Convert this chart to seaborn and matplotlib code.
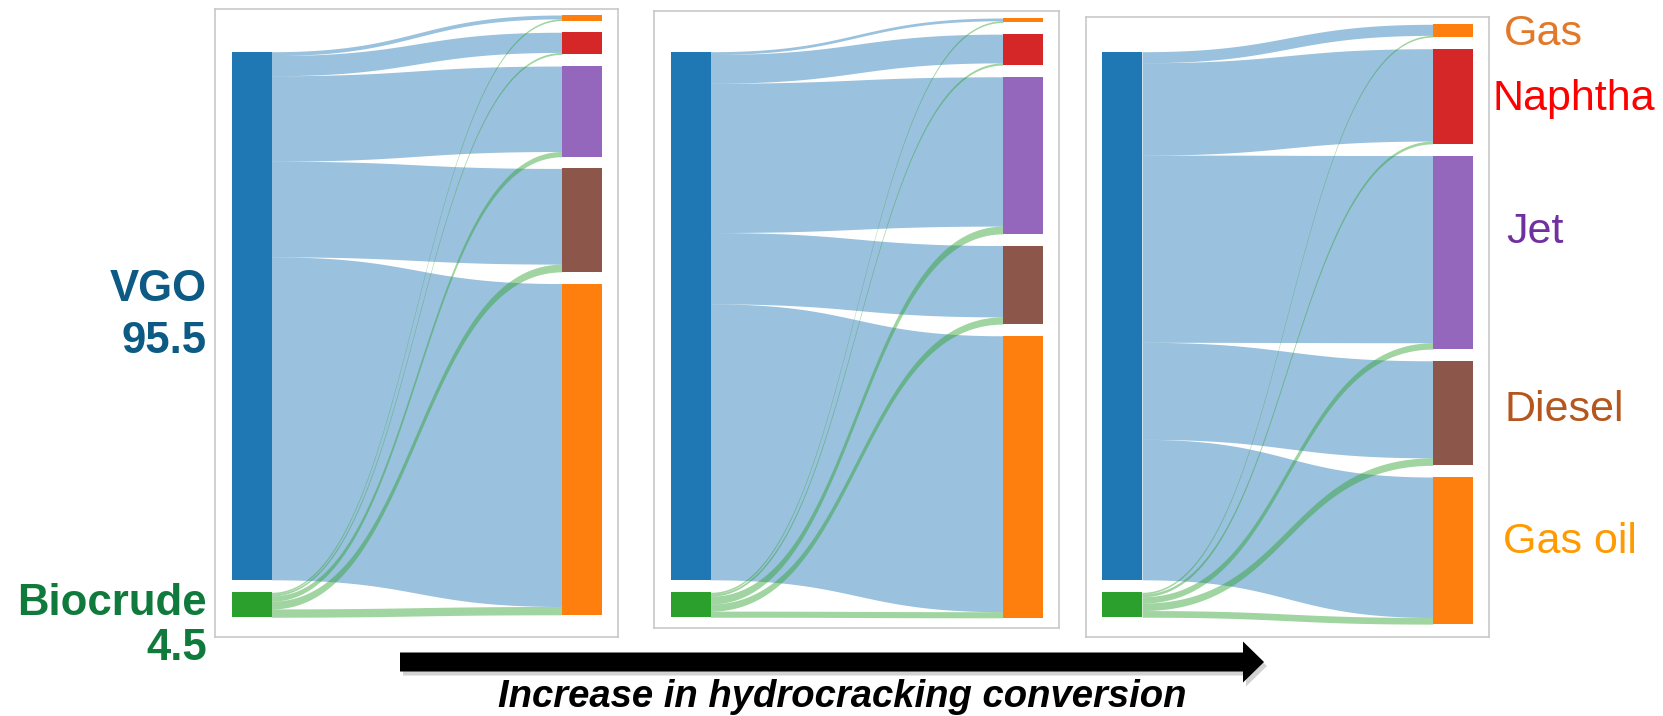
import matplotlib

matplotlib.use("Agg")
import matplotlib.pyplot as plt
import numpy as np
import seaborn as sns
from matplotlib.patches import FancyArrow

feeds = ["VGO", "Biocrude"]
feed_amounts = [95.5, 4.5]
products = ["Gas", "Naphtha", "Jet", "Diesel", "Gas oil"]

# product yields from each feed, one row per case (low -> high conversion)
vgo_yields = [
    [0.7, 3.65, 15.45, 17.3, 58.4],
    [0.5, 5.2, 27.0, 12.9, 49.9],
    [2.0, 16.7, 33.85, 17.55, 25.4],
]
bio_yields = [
    [0.3, 0.35, 0.95, 1.4, 1.5],
    [0.3, 0.4, 1.4, 1.3, 1.1],
    [0.3, 0.5, 1.15, 1.35, 1.2],
]
arrow_text = "Increase in hydrocracking conversion"

sns.set_theme(style="white")
plt.rcParams["font.family"] = ["Liberation Sans", "DejaVu Sans"]

pal = sns.color_palette("tab10")
feed_colors = [pal[0], pal[2]]
product_colors = [pal[1], pal[3], pal[4], pal[5], pal[1]]
feed_text_colors = ["#0d5b85", "#0f7a3c"]
product_text_colors = ["#e2782a", "#ff0000", "#7030a0", "#b4561e", "#ff9a00"]

# layout, in figure pixels (y grows downwards)
W, H = 1663, 716
frames = [(215, 8.5, 618, 637), (654, 10.5, 1059, 628), (1085.5, 17, 1489, 637)]
right_tops = [15, 18, 24.3]
left_top = 51.7
px_per_unit = 5.53
node_w = 40
right_gap = 11.7
left_gap = 12.5
link_alpha = 0.45


def stack(values, top, gap):
    heights = np.asarray(values) * px_per_unit
    tops = top + np.concatenate([[0], np.cumsum(heights[:-1] + gap)])
    return tops, heights


def draw_link(ax, x0, x1, a_top, a_bot, b_top, b_bot, color):
    t = np.linspace(0, 1, 120)
    xm = (x0 + x1) / 2
    x = (1 - t) ** 3 * x0 + 3 * (1 - t) ** 2 * t * xm + 3 * (1 - t) * t ** 2 * xm + t ** 3 * x1
    s = 3 * t ** 2 - 2 * t ** 3
    ax.fill_between(x, a_top + (b_top - a_top) * s, a_bot + (b_bot - a_bot) * s,
                    color=color, alpha=link_alpha, lw=0)


fig = plt.figure(figsize=(W / 100, H / 100), dpi=100)

# overlay axes for labels and the arrow
over = fig.add_axes([0, 0, 1, 1])
over.set_xlim(0, W)
over.set_ylim(H, 0)
over.axis("off")

for k, (fx0, fy0, fx1, fy1) in enumerate(frames):
    ax = fig.add_axes([fx0 / W, 1 - fy1 / H, (fx1 - fx0) / W, (fy1 - fy0) / H])
    ax.set_xlim(fx0, fx1)
    ax.set_ylim(fy1, fy0)
    ax.set_xticks([])
    ax.set_yticks([])
    ax.set_facecolor("none")
    for sp in ax.spines.values():
        sp.set_color("#c8c8c8")
        sp.set_linewidth(1.2)

    flows = np.array([vgo_yields[k], bio_yields[k]])
    totals = flows.sum(axis=0)
    lx0 = fx0 + 16.5
    rx0 = fx1 - 16 - node_w

    l_tops, l_h = stack(flows.sum(axis=1), left_top, left_gap)
    r_tops, r_h = stack(totals, right_tops[k], right_gap)

    # outgoing offsets at feeds, incoming offsets at products
    out_off = l_tops.copy()
    in_off = r_tops.copy()
    links = []
    for i in range(len(feeds)):
        for j in range(len(products)):
            h = flows[i, j] * px_per_unit
            links.append((i, j, out_off[i], in_off[j], h))
            out_off[i] += h
            in_off[j] += h

    for i, j, a, b, h in links:
        draw_link(ax, lx0 + node_w, rx0, a, a + h, b, b + h, feed_colors[i])

    ax.bar(lx0 + node_w / 2, l_h, bottom=l_tops, width=node_w, color=feed_colors, lw=0)
    ax.bar(rx0 + node_w / 2, r_h, bottom=r_tops, width=node_w, color=product_colors, lw=0)

# feed labels on the left
feed_label_y = [(301, 353), (615, 660)]
for name, amount, color, (y1, y2) in zip(feeds, feed_amounts, feed_text_colors, feed_label_y):
    over.text(207, y1, name, ha="right", va="baseline", fontsize=31.5,
              fontweight="bold", color=color)
    over.text(207, y2, f"{amount}", ha="right", va="baseline", fontsize=31.5,
              fontweight="bold", color=color)

# product labels on the right
product_label_pos = [(1504, 45), (1493, 110), (1506, 243), (1504, 421), (1503, 553)]
for name, color, (x, y) in zip(products, product_text_colors, product_label_pos):
    over.text(x, y, name, ha="left", va="baseline", fontsize=31, color=color)

# arrow with a soft shadow
for dx, dy, c, a in [(3, 4, "#808080", 0.35), (0, 0, "black", 1.0)]:
    over.add_patch(FancyArrow(400 + dx, 662 + dy, 864, 0, width=19, head_width=41,
                              head_length=21, length_includes_head=True,
                              color=c, alpha=a, lw=0))
over.text(842, 707, arrow_text, ha="center", va="baseline", fontsize=27.5,
          fontweight="bold", fontstyle="italic", color="black")

fig.savefig("out.png", dpi=100)
